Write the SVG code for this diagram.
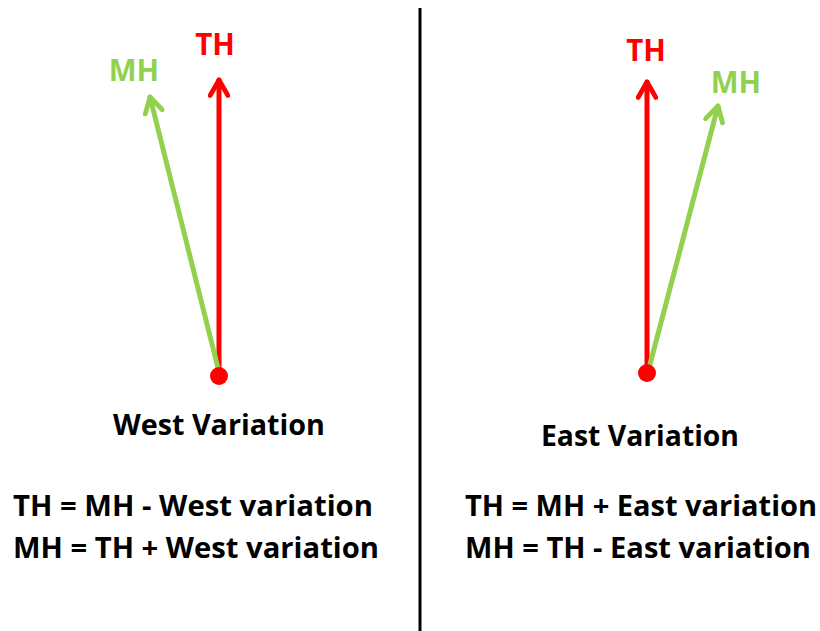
<svg xmlns="http://www.w3.org/2000/svg" width="820" height="631" viewBox="0 0 820 631">
  <style>
    text { font-family: "Open Sans", "Liberation Sans", sans-serif; font-weight: bold; }
    .lbl { font-size: 29.5px; }
    .title { font-size: 29px; fill: #000; }
    .eq { font-size: 29px; fill: #000; }
    .th { fill: #ff0000; }
    .mh { fill: #92d050; }
    .red { stroke: #ff0000; stroke-width: 5; fill: none; stroke-linecap: round; stroke-linejoin: round; }
    .green { stroke: #92d050; stroke-width: 5; fill: none; stroke-linecap: round; stroke-linejoin: round; }
  </style>
  <defs>
    <marker id="headRed" viewBox="0 0 10 10" refX="8" refY="5" markerWidth="4.4" markerHeight="4.4" orient="auto" markerUnits="strokeWidth">
      <path d="M1,1 L8,5 L1,9" fill="none" stroke="#ff0000" stroke-width="2.2" stroke-linecap="round" stroke-linejoin="round"/>
    </marker>
    <marker id="headGreen" viewBox="0 0 10 10" refX="8" refY="5" markerWidth="4.4" markerHeight="4.4" orient="auto" markerUnits="strokeWidth">
      <path d="M1,1 L8,5 L1,9" fill="none" stroke="#92d050" stroke-width="2.2" stroke-linecap="round" stroke-linejoin="round"/>
    </marker>
  </defs>

  <!-- divider -->
  <line x1="420" y1="8" x2="420" y2="631" stroke="#000" stroke-width="3"/>

  <g id="connectors">
    <line class="red" x1="219" y1="374" x2="219" y2="80" marker-end="url(#headRed)"/>
    <line class="green" x1="219" y1="372" x2="150" y2="97" marker-end="url(#headGreen)"/>
    <line class="red" x1="647" y1="372" x2="647" y2="82" marker-end="url(#headRed)"/>
    <line class="green" x1="648" y1="372" x2="718" y2="106" marker-end="url(#headGreen)"/>
  </g>

  <g id="west-origin"><circle cx="219" cy="376" r="9" fill="#ff0000"/></g>
  <g id="east-origin"><circle cx="647" cy="373" r="9" fill="#ff0000"/></g>

  <g id="west-th"><text class="lbl th" x="215" y="55" text-anchor="middle">TH</text></g>
  <g id="west-mh"><text class="lbl mh" x="134" y="81" text-anchor="middle">MH</text></g>
  <g id="east-th"><text class="lbl th" x="646" y="61" text-anchor="middle">TH</text></g>
  <g id="east-mh"><text class="lbl mh" x="736" y="93" text-anchor="middle">MH</text></g>

  <g id="west-text">
    <text class="title" x="113" y="435" textLength="212" lengthAdjust="spacingAndGlyphs">West Variation</text>
    <text class="eq" x="13" y="516" textLength="360" lengthAdjust="spacingAndGlyphs">TH = MH - West variation</text>
    <text class="eq" x="13" y="558" textLength="366" lengthAdjust="spacingAndGlyphs">MH = TH + West variation</text>
  </g>
  <g id="east-text">
    <text class="title" x="541" y="446" textLength="198" lengthAdjust="spacingAndGlyphs">East Variation</text>
    <text class="eq" x="465" y="516" textLength="352" lengthAdjust="spacingAndGlyphs">TH = MH + East variation</text>
    <text class="eq" x="465" y="558" textLength="346" lengthAdjust="spacingAndGlyphs">MH = TH - East variation</text>
  </g>
</svg>
